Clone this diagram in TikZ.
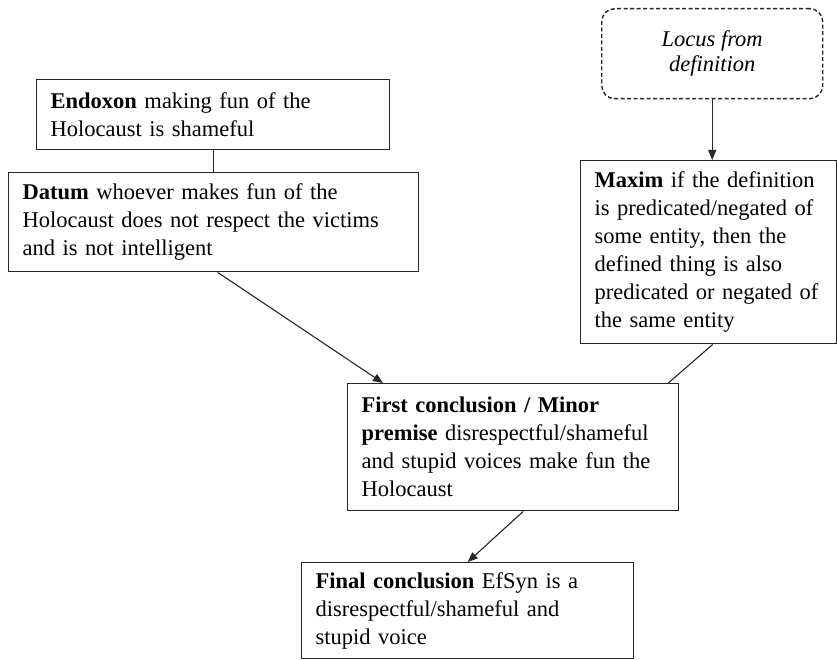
\documentclass[tikz,border=0pt]{standalone}
\usepackage{fontspec}
\setmainfont{Liberation Serif}
\usetikzlibrary{arrows.meta}

\tikzset{
  argbox/.style={draw=black!85, line width=1.4pt, fill=white, anchor=north west,
    align=left, inner xsep=14pt, inner ysep=0pt,
    font=\fontsize{22.5pt}{28pt}\selectfont},
  locusbox/.style={draw=black!85, line width=1.4pt, dash pattern=on 4pt off 2.5pt,
    rounded corners=13pt, anchor=north west, align=center, inner sep=0pt,
    font=\fontsize{22.5pt}{25pt}\selectfont\itshape},
  link/.style={draw=black!85, line width=1.1pt},
  arrowlink/.style={link, -{Triangle[length=10pt,width=8pt]}}
}

\begin{document}
\begin{tikzpicture}[x=1pt, y=-1pt]
  \useasboundingbox (0,0) rectangle (837,660);

  % dashed locus box at the top right
  \node[locusbox, minimum width=221pt, minimum height=90pt] (locus) at (601,8)
    {Locus from\\definition};

  % premises on the left
  \node[argbox, text width=325pt, minimum height=70pt] (endoxon) at (36,79)
    {\textbf{Endoxon} making fun of the\\Holocaust is shameful};
  \node[argbox, text width=382pt, minimum height=99pt] (datum) at (8,172)
    {\textbf{Datum} whoever makes fun of the\\Holocaust does not respect the victims\\and is not intelligent};

  % maxim on the right
  \node[argbox, text width=228pt, minimum height=183pt] (maxim) at (580,160)
    {\textbf{Maxim} if the definition\\is predicated/negated of\\some entity, then the\\defined thing is also\\predicated or negated of\\the same entity};

  % conclusions
  \node[argbox, text width=303pt, minimum height=127pt] (first) at (347,383)
    {\textbf{First conclusion / Minor}\\\textbf{premise} disrespectful/shameful\\and stupid voices make fun the\\Holocaust};
  \node[argbox, text width=304pt, minimum height=96pt] (final) at (301,562)
    {\textbf{Final conclusion} EfSyn is a\\disrespectful/shameful and\\stupid voice};

  % connectors
  \draw[arrowlink] (locus.south) -- (locus.south |- maxim.north);
  \draw[link] (endoxon.south) -- (endoxon.south |- datum.north);
  \draw[arrowlink] ([xshift=4pt]datum.south) -- ([xshift=36pt]first.north west);
  \draw[link] ([xshift=4pt]maxim.south) -- ([xshift=-11pt]first.north east);
  \draw[arrowlink] ([xshift=10pt]first.south) -- (final.north);
\end{tikzpicture}
\end{document}
